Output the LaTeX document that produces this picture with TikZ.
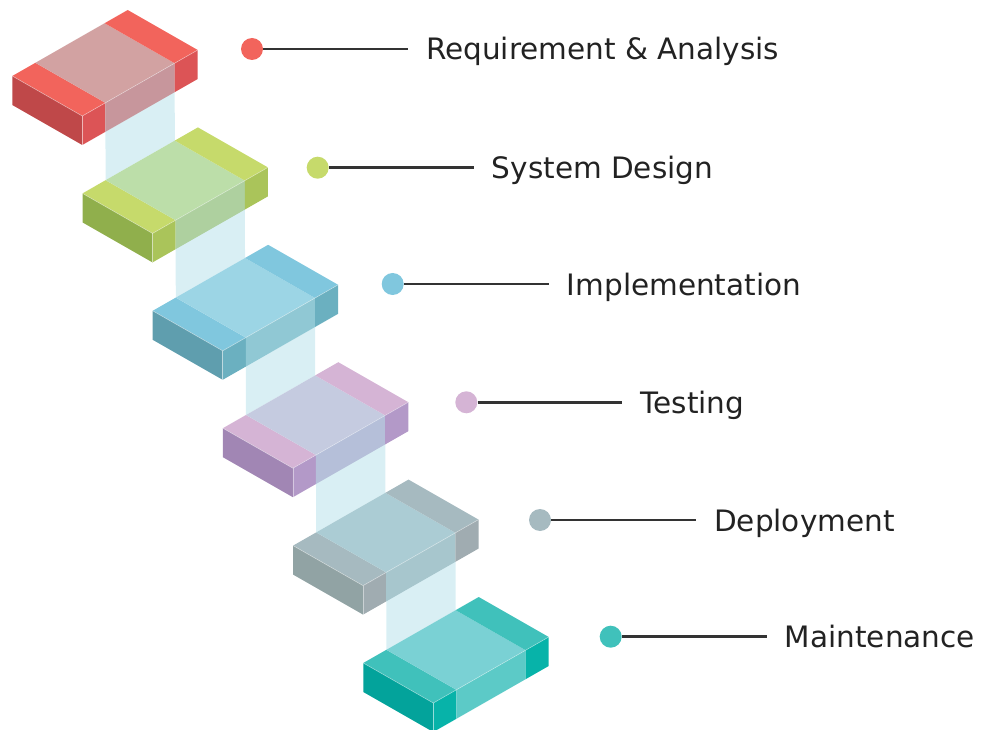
\documentclass[tikz,border=0pt]{standalone}
\usepackage{fontspec}
\setmainfont{DejaVu Sans}
\usetikzlibrary{calc}
% block colours: A top end, B top middle, C left face, D front end, E front middle
\definecolor{rA}{HTML}{F2645C}\definecolor{rB}{HTML}{D2A2A2}\definecolor{rC}{HTML}{BF4849}\definecolor{rD}{HTML}{DC5456}\definecolor{rE}{HTML}{C7969C}
\definecolor{gA}{HTML}{C6DA6B}\definecolor{gB}{HTML}{BCDEA9}\definecolor{gC}{HTML}{90AF4C}\definecolor{gD}{HTML}{AAC45A}\definecolor{gE}{HTML}{AED09F}
\definecolor{bA}{HTML}{80C7DE}\definecolor{bB}{HTML}{9CD5E5}\definecolor{bC}{HTML}{5F9EAE}\definecolor{bD}{HTML}{6BB0C0}\definecolor{bE}{HTML}{90C8D4}
\definecolor{pA}{HTML}{D5B4D5}\definecolor{pB}{HTML}{C5CBE0}\definecolor{pC}{HTML}{A186B4}\definecolor{pD}{HTML}{B399C8}\definecolor{pE}{HTML}{B5BFD9}
\definecolor{sA}{HTML}{A6BAC0}\definecolor{sB}{HTML}{ABCCD4}\definecolor{sC}{HTML}{91A3A4}\definecolor{sD}{HTML}{A0ACB1}\definecolor{sE}{HTML}{A7C6CD}
\definecolor{tA}{HTML}{40C1BB}\definecolor{tB}{HTML}{7AD1D4}\definecolor{tC}{HTML}{03A39B}\definecolor{tD}{HTML}{07B3A9}\definecolor{tE}{HTML}{5CCAC7}
\definecolor{connc}{HTML}{D9EFF4}
\definecolor{linec}{HTML}{333333}
\definecolor{textc}{HTML}{222222}
\tikzset{
  conn/.style={fill=connc},
  edgehl/.style={draw=white, draw opacity=0.45, line width=0.6pt},
  dotnode/.style={circle, inner sep=0pt, minimum size=22pt},
  leader/.style={draw=linec, line width=2.6pt},
  lbl/.style={anchor=base west, inner sep=0pt, text=textc, font=\fontsize{29.5}{35}\selectfont}
}
\begin{document}
\begin{tikzpicture}[x=1pt,y=-1pt]
\useasboundingbox (0,0) rectangle (983,730);
\clip (0,0) rectangle (983,730);
% block anchor points (front top corner of each block)
\foreach \i in {0,...,5} {
  \coordinate (F\i) at ({82.3+70.2*\i},{116+117.4*\i});
}
% translucent connectors between blocks
\foreach \i/\j in {0/1,1/2,2/3,3/4,4/5} {
  \fill[conn] ($(F\i)+(23.08,-13.2)$) -- ($(F\i)+(92.32,-52.8)$)
    -- ($(F\j)+(22.32,-92.8)$) -- ($(F\j)+(-46.92,-53.2)$) -- cycle;
}
% blocks
\foreach \i/\c in {0/r,1/g,2/b,3/p,4/s,5/t} {
  \begin{scope}[shift={(F\i)}]
    % top face
    \fill[\c A] (0,0) -- (23.08,-13.2) -- (-46.92,-53.2) -- (-70,-40) -- cycle;
    \fill[\c B] (23.08,-13.2) -- (92.32,-52.8) -- (22.32,-92.8) -- (-46.92,-53.2) -- cycle;
    \fill[\c A] (92.32,-52.8) -- (115.4,-66) -- (45.4,-106) -- (22.32,-92.8) -- cycle;
    % left face
    \fill[\c C] (0,0) -- (-70,-40) -- (-70,-11) -- (0,29) -- cycle;
    % front face
    \fill[\c D] (0,0) -- (23.08,-13.2) -- (23.08,15.8) -- (0,29) -- cycle;
    \fill[\c E] (23.08,-13.2) -- (92.32,-52.8) -- (92.32,-23.8) -- (23.08,15.8) -- cycle;
    \fill[\c D] (92.32,-52.8) -- (115.4,-66) -- (115.4,-37) -- (92.32,-23.8) -- cycle;
    % light edges
    \path[edgehl] (-70,-40) -- (0,0) -- (115.4,-66);
    \path[edgehl] (0,0) -- (0,29);
  \end{scope}
}
% labels
\foreach \i/\x/\y/\c/\t in {
  1/252/49/rA/{Requirement \& Analysis},
  2/317.7/167.7/gA/{System Design},
  3/392.7/284/bA/{Implementation},
  4/466.3/402.3/pA/{Testing},
  5/540/520/sA/{Deployment},
  6/610.7/636.7/tA/{Maintenance}} {
  \node[dotnode, fill=\c] (d\i) at (\x,\y) {};
  \coordinate (e\i) at ({\x+156},\y);
  \draw[leader] (d\i) -- (e\i);
  \node[lbl] (t\i) at ({\x+174},{\y+11}) {\t};
}
\end{tikzpicture}
\end{document}
